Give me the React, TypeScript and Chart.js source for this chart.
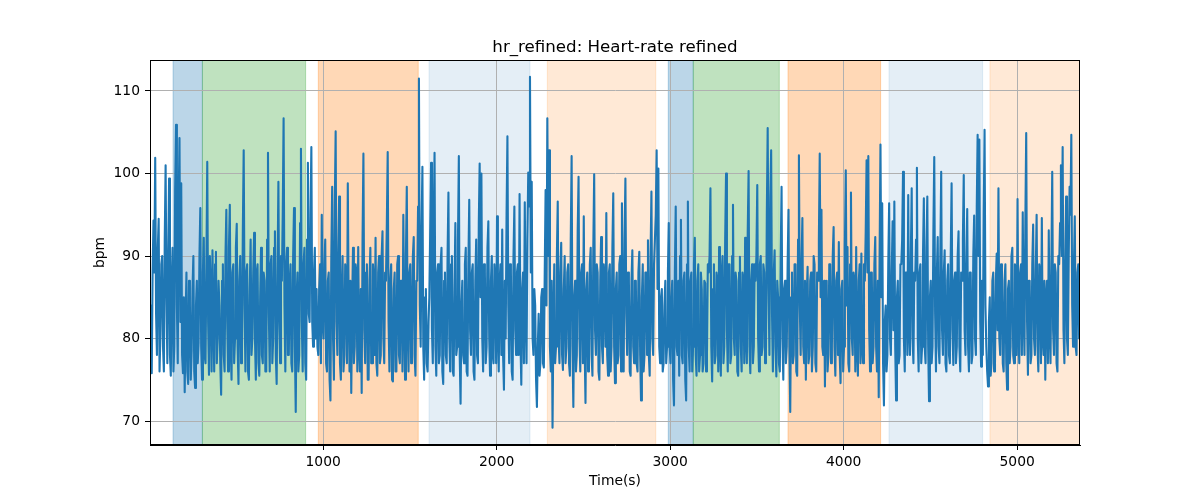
import { useEffect, useRef } from "react";
import { Chart, registerables } from "chart.js";

Chart.register(...registerables);

// ---- data -------------------------------------------------------------
const TITLE = "hr_refined: Heart-rate refined";
const X_LABEL = "Time(s)";
const Y_LABEL = "bpm";

const T_START = 2; // first sample time (s)
const T_STEP = 5; // seconds between samples
const X_MIN = 2;
const X_MAX = 5362;
const Y_MIN = 67.1;
const Y_MAX = 113.75;

const xTicks = [1000, 2000, 3000, 4000, 5000];
const yTicks = [70, 80, 90, 100, 110];

// heart-rate samples (bpm), one every T_STEP seconds
const hrValues = [
  80, 84, 75.8, 88, 94.3, 88, 101.9, 83, 78, 91, 94.5, 76, 80.5, 89, 90, 79, 76, 92, 101, 85, 77, 90, 99.4, 78, 75.5, 87, 91, 76, 79, 98, 105.9, 84, 77, 96, 104.3, 82, 98.8, 78, 75.8, 85,
  73.5, 82, 88, 76, 74.5, 87, 84, 75, 78.5, 86, 90, 76, 74, 84, 87, 77, 79.5, 90, 95.8, 79, 75, 88, 92.2, 78, 77, 89, 101.4, 82, 75.6, 90, 86, 76, 90.7, 83, 76, 89, 90.5, 77, 80, 87,
  84, 77, 73.2, 87, 89, 78, 76, 90, 95.6, 82, 76, 91, 96.2, 79, 75, 88, 89, 77, 80, 91, 93.9, 79, 74.5, 87, 90, 77, 78, 93, 102.8, 84, 76, 88, 89, 76, 75, 86, 92, 78, 80, 88,
  92.8, 80, 75, 88, 89, 77, 75.5, 85, 91, 78, 77, 88, 87, 76, 76, 92, 102.5, 83, 76, 89, 90, 77, 80, 91, 93, 78, 74.5, 88, 99, 82, 77, 90, 87, 95, 106.7, 84, 76, 89, 91, 78,
  78, 87, 89, 77, 76, 90, 95.8, 79, 71.1, 85, 88, 76, 78, 94, 103, 82, 76, 89, 91, 77, 75, 92, 101.3, 83, 82, 95, 103.2, 82, 79, 88, 91, 80, 86, 79, 78, 86, 89, 77, 95, 82,
  80, 89, 92, 77, 76, 87, 88, 75, 72.5, 90, 98.4, 80, 75, 96, 105.1, 82, 78, 90, 97.2, 77, 75, 86, 90, 76, 78, 89, 87, 77, 98.8, 84, 76, 87, 73.4, 84, 91, 77, 79, 89, 88, 76,
  91.1, 79, 76, 86, 73.4, 92, 102.4, 81, 77, 88, 89, 75, 75, 87, 91, 77, 77, 89, 87, 78, 92.2, 77, 75.5, 88, 90, 77, 78, 90, 93, 80, 77, 88, 87, 94, 102.6, 82, 76, 87, 89, 75,
  74.8, 86, 88, 76, 76, 89, 90, 78, 77, 87, 87, 76, 95, 83, 75, 90, 98.4, 81, 76, 88, 89, 77, 79, 90, 92.3, 78, 75.5, 87, 87, 96, 111.5, 84, 79, 93, 100.8, 79, 75, 85, 86, 77,
  76, 82, 85, 93, 101.3, 81, 77, 94, 102.5, 79, 75.5, 88, 89, 77, 78, 89, 91, 76, 74.5, 87, 88, 78, 77, 90, 97.7, 80, 76, 89, 90, 76, 75.5, 86, 94, 78, 79, 92, 102.1, 78, 72.1, 84,
  87, 78, 77, 89, 91, 76, 75.5, 89, 96.8, 81, 78, 88, 89, 76, 75, 87, 92, 78, 77, 94, 101.2, 85, 100, 80, 76, 89, 88, 77, 79, 91, 94.2, 80, 75.5, 87, 90, 78, 77, 89, 87, 77,
  94.8, 81, 76, 87, 89, 78, 93.2, 78, 73.8, 87, 80, 95, 104.5, 84, 77, 89, 88, 76, 75, 90, 96, 81, 78, 88, 89, 78, 97.5, 80, 74.4, 86, 88, 77, 96.5, 83, 77, 92, 100.1, 96, 111.7, 88,
  99, 80, 78, 86, 84, 75, 71.7, 79, 83, 75.5, 77, 85, 86, 77, 76.5, 88, 98, 84, 106.7, 90, 102.8, 79, 76, 87, 69.2, 82, 89, 77, 79, 90, 96.6, 80, 77, 88, 91.6, 78, 76.2, 86, 90, 77,
  79, 88, 89, 77, 75.5, 92, 102.1, 79, 71.7, 85, 87, 76, 78, 93, 99.6, 80, 76, 88, 89, 77, 94.8, 79, 72.2, 86, 88, 76, 78, 89, 91, 78, 75.5, 91, 99.9, 81, 78, 89, 88, 76, 75, 87,
  92.3, 79, 77, 89, 87, 79, 95.2, 78, 75.5, 88, 89, 76, 79, 91, 97.6, 79, 74.6, 86, 88, 77, 78, 89, 90, 76, 96.4, 80, 76, 92, 99.4, 83, 78, 88, 87, 76, 75.5, 87, 90.7, 79, 77, 87,
  87, 77, 76, 88, 90.5, 78, 72.5, 85, 89, 76, 78, 88, 88, 78, 91.9, 78, 75.5, 90, 97.8, 80, 78, 89, 89, 95, 102.8, 86, 100.6, 79, 77, 85, 86, 76, 77, 84, 87, 77, 79, 88, 94, 79,
  77, 85, 87, 75, 71.9, 88, 96, 79, 78, 87, 75.5, 90, 94.4, 78, 77, 87, 88, 75, 72.5, 89, 96.6, 79, 76, 87, 88, 76, 79, 89, 92.2, 78, 75.5, 87, 89, 76, 78, 88, 86, 76, 77, 87,
  86.7, 76, 78, 89, 88, 90, 98.2, 79, 74.8, 86, 89, 77, 78, 88, 87, 76, 91.1, 79, 75.5, 88, 90, 77, 79, 92, 100, 81, 76, 89, 89, 77, 78, 90, 96.2, 80, 78, 88, 87, 76, 75.5, 88,
  89.9, 79, 76, 88, 87, 77, 92.2, 80, 77, 93, 100.3, 79, 75.8, 87, 89, 77, 79, 89, 87, 90, 98.6, 80, 76, 89, 90, 78, 79, 89, 88, 77, 78, 95, 105.5, 86, 78, 97, 102.8, 83, 76, 88,
  90.7, 79, 75.4, 87, 85, 77, 76, 90, 98.4, 80, 75, 86, 87, 77, 79, 89, 95.6, 79, 71.1, 85, 88, 77, 78, 89, 89, 76, 75.5, 92, 102.2, 84, 78, 89, 94.6, 79, 77, 87, 75, 85, 88.7, 77,
  78, 87, 88, 76, 79, 90, 89, 77, 76, 88, 87, 92, 102.4, 85, 95.6, 79, 78, 87, 74.2, 85, 87, 76, 78, 89, 89, 77, 79, 90, 93.5, 79, 75.5, 87, 88, 78, 91.7, 78, 74.6, 86, 87, 76,
  79, 91, 100.4, 84, 91.1, 77, 76, 89, 97.7, 80, 78, 88, 87, 76, 91.1, 79, 75.5, 87, 89, 77, 90.3, 79, 77, 89, 87, 93, 101.6, 88, 102.1, 81, 76, 88, 88, 77, 79, 89, 92.3, 79, 76, 87,
  72.9, 90, 103.5, 85, 96.4, 77, 71.9, 82, 84, 76, 78, 89, 96.4, 80, 78, 88, 94.2, 81, 96.6, 79, 72.5, 85, 87, 77, 78, 89, 89, 92, 100.2, 80, 76, 88, 88, 78, 97.4, 81, 78, 90, 98.2, 80,
  77, 88, 87, 92, 100.7, 80, 76, 88, 89, 77, 79, 90, 97, 79, 77, 91, 97.2, 79, 72.4, 85, 87, 77, 79, 93, 102, 83, 76, 88, 92.3, 79, 77, 90, 100.2, 81, 78, 88, 90.7, 77, 76, 87,
  89, 78, 77, 90, 98.8, 81, 76.8, 87, 88, 77, 79, 90, 93, 79, 76, 88, 87, 92, 99.8, 81, 78, 89, 95.7, 79, 76, 88, 88, 77, 78, 90, 94.9, 80, 78, 96, 104.7, 90, 104.1, 82, 76.6, 87,
  78, 95, 105.3, 84, 79, 76, 74.2, 82, 85, 75.5, 77, 87, 88, 76, 77, 87, 90.3, 81, 98.2, 80, 78, 89, 88, 77, 76, 87, 89, 77, 73.8, 86, 87, 77, 79, 90, 91, 78, 77, 89, 88, 78,
  96.9, 81, 77, 88, 89, 78, 95.3, 83, 78, 94, 104.9, 82, 75.6, 87, 87, 77, 78, 89, 93.8, 80, 78, 88, 95, 79, 76, 89, 88, 77, 94.6, 80, 78, 87, 75, 85, 87, 77, 93.1, 81, 77, 89,
  100.2, 81, 78, 89, 88, 77, 76, 90, 89, 94, 101, 90, 103.2, 81, 77, 89, 97.2, 80, 78, 90, 98.4, 95, 104.7, 84, 79, 89, 94.8, 79, 78, 88, 89, 80, 82,
];

// shaded phases (seconds)
const bandStarts = [135, 304, 972, 1610, 2292, 2989, 3133, 3679, 4261, 4843];
const bandEnds = [304, 899, 1548, 2192, 2917, 3133, 3629, 4213, 4801, 5400];
const bandColors = [
  "rgba(31,119,180,0.3)",
  "rgba(44,160,44,0.3)",
  "rgba(255,127,14,0.3)",
  "rgba(31,119,180,0.12)",
  "rgba(255,127,14,0.17)",
  "rgba(31,119,180,0.3)",
  "rgba(44,160,44,0.3)",
  "rgba(255,127,14,0.3)",
  "rgba(31,119,180,0.12)",
  "rgba(255,127,14,0.17)",
];

const LINE_COLOR = "#1f77b4";
const FONT = "'DejaVu Sans', sans-serif";

const bandsPlugin = {
  id: "bands",
  beforeDraw(chart: any) {
    const { ctx, chartArea, scales } = chart;
    const xs = scales.x;
    ctx.save();
    ctx.beginPath();
    ctx.rect(chartArea.left, chartArea.top, chartArea.right - chartArea.left, chartArea.bottom - chartArea.top);
    ctx.clip();
    for (let i = 0; i < bandStarts.length; i++) {
      const x0 = xs.getPixelForValue(bandStarts[i]);
      const x1 = xs.getPixelForValue(bandEnds[i]);
      ctx.fillStyle = bandColors[i];
      ctx.fillRect(x0, chartArea.top, x1 - x0, chartArea.bottom - chartArea.top);
      ctx.strokeStyle = bandColors[i];
      ctx.lineWidth = 1;
      ctx.beginPath();
      ctx.moveTo(x0, chartArea.top);
      ctx.lineTo(x0, chartArea.bottom);
      ctx.moveTo(x1, chartArea.top);
      ctx.lineTo(x1, chartArea.bottom);
      ctx.stroke();
    }
    ctx.restore();
  },
  afterDraw(chart: any) {
    const { ctx, chartArea } = chart;
    ctx.save();
    ctx.strokeStyle = "#000";
    ctx.lineWidth = 1;
    ctx.strokeRect(
      Math.round(chartArea.left) + 0.5,
      Math.round(chartArea.top) + 0.5,
      Math.round(chartArea.right - chartArea.left) - 1,
      Math.round(chartArea.bottom - chartArea.top) - 1
    );
    const cx = (chartArea.left + chartArea.right) / 2;
    const cy = (chartArea.top + chartArea.bottom) / 2;
    ctx.fillStyle = "#000";
    ctx.textAlign = "center";
    ctx.textBaseline = "alphabetic";
    ctx.font = `16.67px ${FONT}`;
    ctx.fillText(TITLE, cx, 52);
    ctx.font = `13.89px ${FONT}`;
    ctx.textBaseline = "middle";
    ctx.fillText(X_LABEL, cx, 481);
    ctx.save();
    ctx.translate(100, cy);
    ctx.rotate(-Math.PI / 2);
    ctx.fillText(Y_LABEL, 0, 0);
    ctx.restore();
    ctx.restore();
  },
};

export default function App() {
  const canvasRef = useRef<HTMLCanvasElement | null>(null);

  useEffect(() => {
    const canvas = canvasRef.current;
    if (!canvas) return;
    const points = hrValues.map((v, i) => ({ x: T_START + i * T_STEP, y: v }));
    const chart = new Chart(canvas, {
      type: "line",
      data: {
        datasets: [
          {
            data: points,
            borderColor: LINE_COLOR,
            borderWidth: 2.1,
            borderJoinStyle: "round",
            pointRadius: 0,
            fill: false,
            tension: 0,
          },
        ],
      },
      options: {
        responsive: false,
        animation: false,
        devicePixelRatio: 1,
        parsing: false as any,
        normalized: true,
        layout: { padding: { left: 0, top: 60, right: 120, bottom: 0 } },
        plugins: {
          legend: { display: false },
          title: { display: false },
          tooltip: { enabled: false },
        },
        events: [],
        scales: {
          x: {
            type: "linear",
            min: X_MIN,
            max: X_MAX,
            afterBuildTicks: (scale: any) => {
              scale.ticks = xTicks.map((v) => ({ value: v }));
            },
            afterFit: (scale: any) => {
              scale.height = 55;
            },
            grid: {
              color: "#b0b0b0",
              lineWidth: 1,
              tickColor: "#000",
              tickLength: 5,
              tickWidth: 1,
            },
            border: { display: true, color: "#000", width: 1 },
            ticks: {
              color: "#000",
              padding: 4,
              maxRotation: 0,
              autoSkip: false,
              font: { family: FONT, size: 13.89 },
              callback: (v: any) => String(v),
            },
          },
          y: {
            type: "linear",
            min: Y_MIN,
            max: Y_MAX,
            afterBuildTicks: (scale: any) => {
              scale.ticks = yTicks.map((v) => ({ value: v }));
            },
            afterFit: (scale: any) => {
              scale.width = 150;
            },
            grid: {
              color: "#b0b0b0",
              lineWidth: 1,
              tickColor: "#000",
              tickLength: 5,
              tickWidth: 1,
            },
            border: { display: true, color: "#000", width: 1 },
            ticks: {
              color: "#000",
              padding: 5,
              autoSkip: false,
              font: { family: FONT, size: 13.89 },
              callback: (v: any) => String(v),
            },
          },
        },
      },
      plugins: [bandsPlugin],
    });
    return () => chart.destroy();
  }, []);

  return (
    <div style={{ position: "fixed", left: 0, top: 0, width: 1200, height: 500, background: "#fff" }}>
      <canvas ref={canvasRef} width={1200} height={500} style={{ display: "block" }} />
    </div>
  );
}
